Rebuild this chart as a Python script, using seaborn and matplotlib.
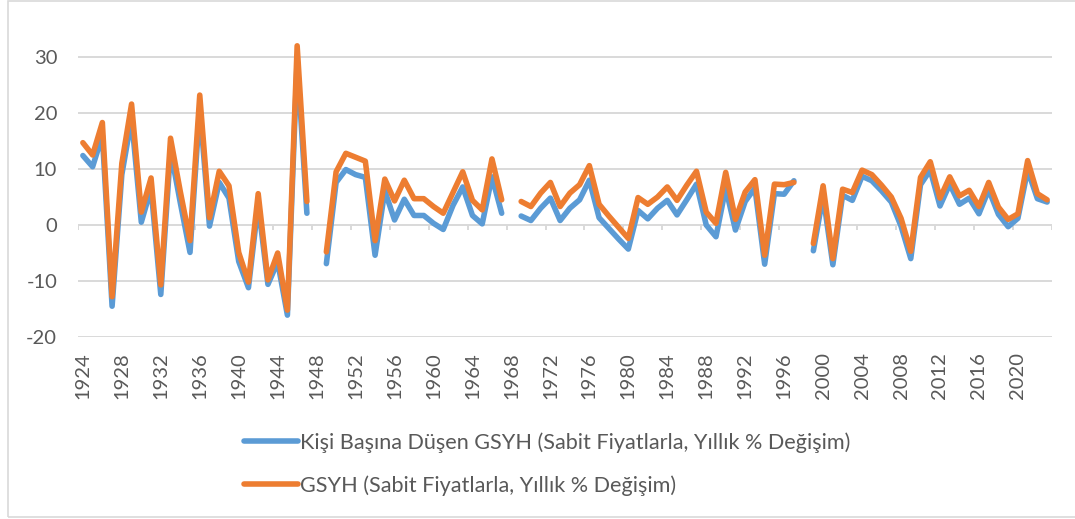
import numpy as np
import pandas as pd
import matplotlib
matplotlib.use("Agg")
import matplotlib.pyplot as plt
import seaborn as sns
from matplotlib.patches import Rectangle

# --- data ---
years = list(range(1924, 2024))

label_pc = "Kişi Başına Düşen GSYH (Sabit Fiyatlarla, Yıllık % Değişim)"
label_gdp = "GSYH (Sabit Fiyatlarla, Yıllık % Değişim)"

gdp_growth = [
    14.7, 12.5, 18.3, -12.8, 11.0, 21.6, 2.3, 8.4, -10.7, 15.5,      # 1924-1933
    6.0, -2.8, 23.2, 1.3, 9.6, 7.0, -4.9, -10.2, 5.6, -9.8,          # 1934-1943
    -5.0, -15.2, 32.0, 4.2, np.nan, -4.8, 9.5, 12.8, 12.1, 11.4,     # 1944-1953
    -2.8, 8.2, 4.3, 8.0, 4.7, 4.7, 3.3, 2.1, 5.8, 9.5,               # 1954-1963
    4.4, 2.7, 11.8, 4.5, np.nan, 4.2, 3.3, 5.7, 7.6, 3.3,            # 1964-1973
    5.7, 7.2, 10.6, 3.7, 1.6, -0.4, -2.4, 4.9, 3.7, 5.0,             # 1974-1983
    6.8, 4.4, 7.1, 9.6, 2.3, 0.3, 9.4, 1.0, 5.9, 8.1,                # 1984-1993
    -5.4, 7.3, 7.2, 7.6, np.nan, -3.3, 7.0, -6.0, 6.4, 5.8,          # 1994-2003
    9.8, 9.0, 7.1, 5.0, 1.2, -4.7, 8.5, 11.3, 4.8, 8.6,              # 2004-2013
    5.2, 6.2, 3.3, 7.6, 3.2, 1.0, 2.0, 11.5, 5.6, 4.5,               # 2014-2023
]

per_capita_growth = [
    12.4, 10.4, 16.0, -14.5, 9.0, 19.0, 0.5, 6.5, -12.4, 13.3,       # 1924-1933
    4.0, -4.9, 21.0, -0.2, 7.6, 4.8, -6.5, -11.2, 3.7, -10.6,        # 1934-1943
    -6.6, -16.1, 29.5, 2.1, np.nan, -6.9, 7.6, 9.9, 9.0, 8.5,        # 1944-1953
    -5.4, 6.1, 0.9, 4.6, 1.7, 1.7, 0.3, -0.8, 3.5, 6.8,              # 1954-1963
    1.7, 0.2, 8.6, 2.1, np.nan, 1.6, 0.8, 3.0, 4.8, 0.8,             # 1964-1973
    3.0, 4.5, 8.0, 1.3, -0.6, -2.5, -4.3, 2.6, 1.1, 3.0,             # 1974-1983
    4.4, 1.8, 4.5, 7.3, 0.0, -2.1, 6.6, -0.9, 4.2, 6.6,              # 1984-1993
    -7.0, 5.6, 5.5, 7.9, np.nan, -4.6, 5.2, -7.1, 5.3, 4.4,          # 1994-2003
    8.7, 7.9, 6.1, 4.1, -0.2, -6.0, 7.2, 9.8, 3.4, 7.3,              # 2004-2013
    3.7, 4.8, 2.0, 6.3, 1.9, -0.3, 1.2, 9.8, 4.7, 4.1,               # 2014-2023
]

y_ticks = [-20, -10, 0, 10, 20, 30]
x_tick_years = years[::4]

BLUE = "#5B9BD5"
ORANGE = "#ED7D31"
GRID = "#D9D9D9"
TEXT = "#595959"


def to_long(values, name):
    s = pd.Series(values, index=years, dtype=float)
    # split into segments at missing years so the gaps stay open
    seg = s.isna().cumsum()
    df = pd.DataFrame({"year": years, "value": s.values, "segment": seg.values, "series": name})
    return df.dropna()


df = pd.concat([to_long(per_capita_growth, label_pc), to_long(gdp_growth, label_gdp)],
               ignore_index=True)

sns.set_theme(style="white")
plt.rcParams["font.family"] = ["Lato", "DejaVu Sans"]

fig = plt.figure(figsize=(10.75, 5.19), dpi=100)
ax = fig.add_axes([78 / 1075, 182 / 519, 974 / 1075, 308 / 519])

sns.lineplot(
    data=df, x="year", y="value", hue="series", units="segment", estimator=None,
    hue_order=[label_pc, label_gdp], palette=[BLUE, ORANGE],
    linewidth=4.0, ax=ax, sort=True,
)
for line in ax.get_lines():
    line.set_solid_capstyle("round")
    line.set_solid_joinstyle("round")

ax.set_xlim(years[0] - 0.5, years[-1] + 0.5)
ax.set_ylim(-20, 35)
ax.set_yticks(y_ticks)
ax.set_yticklabels([str(t) for t in y_ticks])
ax.set_xticks(x_tick_years)
ax.set_xticklabels([str(y) for y in x_tick_years], rotation=90)
ax.tick_params(axis="both", length=0, labelsize=14.5, labelcolor=TEXT)
ax.tick_params(axis="y", pad=15)
ax.tick_params(axis="x", pad=11)
ax.set_xlabel("")
ax.set_ylabel("")

ax.yaxis.grid(True, color=GRID, linewidth=1.4)
ax.xaxis.grid(False)
ax.set_axisbelow(True)
for sp in ax.spines.values():
    sp.set_visible(False)

# category-axis tick marks hanging from the zero line, between every 4th category
bounds = np.arange(years[0] - 0.5, years[-1] + 1, 4)
ax.vlines(bounds, -0.9, 0, color=GRID, linewidth=1.4, zorder=0)

# legend below the plot
handles, labels = ax.get_legend_handles_labels()
ax.get_legend().remove()
for h in handles:
    h.set_linewidth(4.0)
    h.set_solid_capstyle("round")
leg = fig.legend(handles, labels, loc="center", bbox_to_anchor=(547 / 1075, 1 - 464 / 519),
                 ncol=1, frameon=False, fontsize=15.6, handlelength=2.5,
                 handletextpad=0.1, labelspacing=1.05, borderaxespad=0)
for t in leg.get_texts():
    t.set_color(TEXT)

# light chart-area border
fig.patches.append(Rectangle((8 / 1075, 2 / 519), 1.2, 1 - 3 / 519, transform=fig.transFigure,
                             fill=False, edgecolor=GRID, linewidth=1.2))

fig.savefig("out.png", dpi=100)
